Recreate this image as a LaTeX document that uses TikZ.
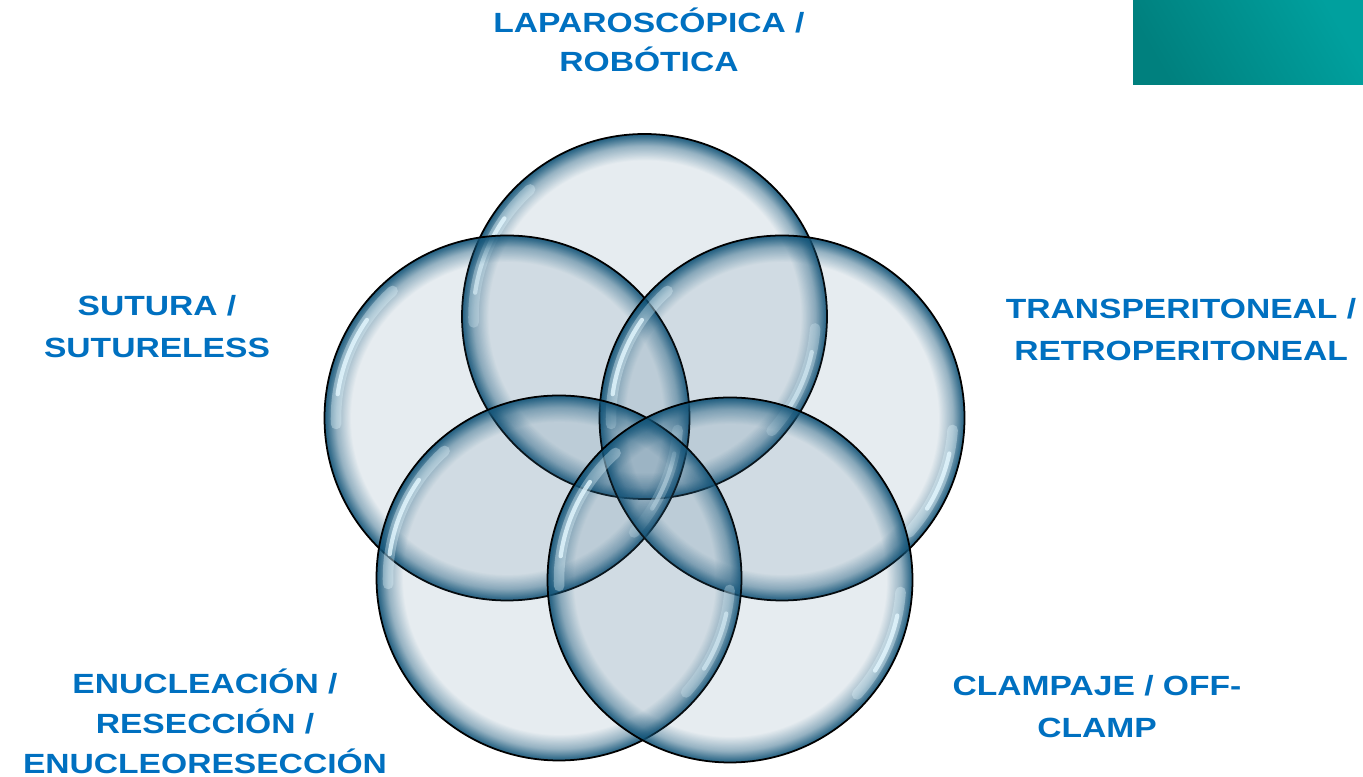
\documentclass[tikz,border=0pt]{standalone}
\usepackage{fontspec}
\newfontfamily\lblfont[FakeStretch=1.21]{Liberation Sans}
\usetikzlibrary{fadings}

\definecolor{lblblue}{RGB}{0,112,192}
\definecolor{bubble}{RGB}{47,97,130}
\definecolor{rim}{RGB}{18,84,120}
\definecolor{teallo}{RGB}{0,128,126}
\definecolor{tealhi}{RGB}{0,160,158}
\definecolor{glintcol}{RGB}{228,248,255}

% darkening towards the edge of each bubble
\pgfdeclareradialshading{rimmask}{\pgfpointorigin}{%
  color(0bp)=(pgftransparent!100); color(21.3bp)=(pgftransparent!100);
  color(23.3bp)=(pgftransparent!62); color(24.5bp)=(pgftransparent!20);
  color(25bp)=(pgftransparent!5); color(50bp)=(pgftransparent!5)}
\pgfdeclarefading{bubble rim}{\pgfuseshading{rimmask}}

\begin{document}
\begin{tikzpicture}[
        lbl/.style={font=\lblfont\bfseries\fontsize{7.9}{12.2}\selectfont,
                text=lblblue, align=center, anchor=base, inner sep=0pt},
        lbltop/.style={lbl, font=\lblfont\bfseries\fontsize{7.9}{11.1}\selectfont},
        lblthree/.style={lbl, font=\lblfont\bfseries\fontsize{7.9}{11.5}\selectfont},
        glint/.style={glintcol, line cap=round, line width=3pt, opacity=0.35},
        glintcore/.style={glintcol, line cap=round, line width=1.2pt, opacity=0.8}]

        \useasboundingbox (0,0) rectangle (13.63,7.77);

        \shade[top color=tealhi, bottom color=teallo, shading angle=-60]
                (11.33,6.92) rectangle (13.63,7.77);

        \coordinate (lap) at (6.445,4.605);
        \coordinate (sut) at (5.07,3.59);
        \coordinate (tra) at (7.82,3.59);
        \coordinate (enu) at (5.59,1.99);
        \coordinate (cla) at (7.30,1.97);

        \foreach \c in {lap, sut, tra, enu, cla}
        {
                \fill[bubble, fill opacity=0.12] (\c) circle (1.825);
                \fill[rim, path fading=bubble rim] (\c) circle (1.825);
                \draw[glint] ([shift={(132:1.71)}]\c) arc (132:182:1.71);
                \draw[glintcore] ([shift={(145:1.71)}]\c) arc (145:172:1.71);
                \draw[glint] ([shift={(-42:1.71)}]\c) arc (-42:-4:1.71);
                \draw[glintcore] ([shift={(-32:1.71)}]\c) arc (-32:-12:1.71);
                \draw[black, line width=0.5pt] (\c) circle (1.825);
        }

        \node[lbltop] (laptxt) at (6.49,7.05) {LAPAROSCÓPICA /\\ROBÓTICA};
        \node[lbl] (suttxt) at (1.57,4.19) {SUTURA /\\SUTURELESS};
        \node[lbl] (tratxt) at (11.81,4.16) {TRANSPERITONEAL /\\RETROPERITONEAL};
        \node[lblthree] (enutxt) at (2.05,0.03) {ENUCLEACIÓN /\\RESECCIÓN /\\ENUCLEORESECCIÓN};
        \node[lbl] (clatxt) at (10.97,0.39) {CLAMPAJE / OFF-\\CLAMP};

\end{tikzpicture}
\end{document}
